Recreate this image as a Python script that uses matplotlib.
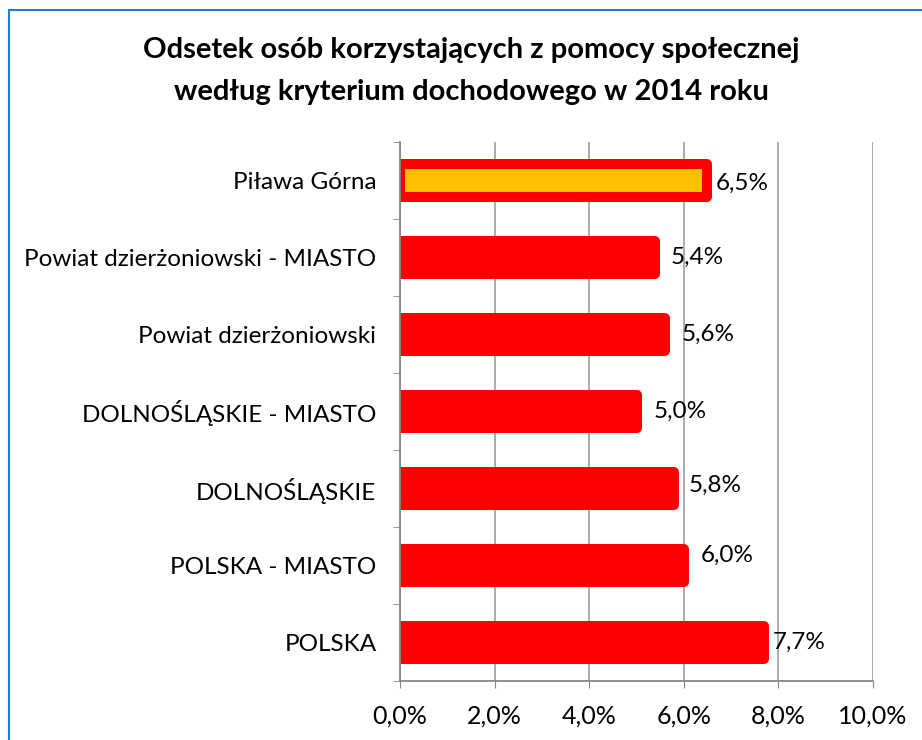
import matplotlib.pyplot as plt
from matplotlib.lines import Line2D
from matplotlib.ticker import FuncFormatter, FixedLocator

# dane
kategorie = ['POLSKA', 'POLSKA - MIASTO', 'DOLNOŚLĄSKIE', 'DOLNOŚLĄSKIE - MIASTO',
             'Powiat dzierżoniowski', 'Powiat dzierżoniowski - MIASTO', 'Piława Górna']
wartosci = [7.7, 6.0, 5.8, 5.0, 5.6, 5.4, 6.5]
etykiety = ['7,7%', '6,0%', '5,8%', '5,0%', '5,6%', '5,4%', '6,5%']
kolory = ['#ff0000'] * 6 + ['#ffc000']

# przesuniecia etykiet (w punktach), jak w oryginale
dx = [6, 12, 10, 12, 12, 11, 6]
dy = [0, 7, 2, 0, 0, 0, -2]

plt.rcParams['font.family'] = ['Lato', 'DejaVu Sans']

fig = plt.figure(figsize=(9.22, 7.4), dpi=100)
ax = fig.add_axes([400/922, 1-681/740, 473/922, (681-142)/740])

y = range(len(kategorie))
ax.barh(y, wartosci, height=0.42, color=kolory, edgecolor='#ff0000',
        linewidth=7.2, joinstyle='round', zorder=3)

for i, (w, t) in enumerate(zip(wartosci, etykiety)):
    ax.annotate(t, (w, i), xytext=(dx[i], dy[i]), textcoords='offset points',
                va='center', ha='left', fontsize=17.5, color='#000000', zorder=4)

ax.set_xlim(0, 10)
ax.set_ylim(-0.5, len(kategorie)-0.5)
ax.xaxis.set_major_locator(FixedLocator([0, 2, 4, 6, 8, 10]))
ax.xaxis.set_major_formatter(FuncFormatter(lambda v, p: ('%.1f%%' % v).replace('.', ',')))
ax.set_yticks(list(y))
ax.set_yticklabels(kategorie, fontsize=17.5)
ax.set_yticks([i + 0.5 for i in range(-1, len(kategorie))], minor=True)
ax.tick_params(axis='y', which='major', length=0, pad=17)
ax.tick_params(axis='y', which='minor', length=5, color='#868686')
ax.tick_params(axis='x', length=5, color='#868686', labelsize=18, pad=12)
ax.grid(axis='x', color='#a6a6a6', linewidth=1.3, zorder=0)
for s in ['top', 'right']:
    ax.spines[s].set_visible(False)
for s in ['left', 'bottom']:
    ax.spines[s].set_color('#868686')
    ax.spines[s].set_linewidth(1.3)
ax.spines['left'].set_zorder(5)

fig.text(0.511, 1-71/740, 'Odsetek osób korzystających z pomocy społecznej\nwedług kryterium dochodowego w 2014 roku',
         ha='center', va='center', fontsize=21, fontweight='bold', linespacing=1.75)

# niebieska ramka
fig.add_artist(Line2D([9/922, 1], [1-10/740, 1-10/740], color='#1f7fd4', linewidth=1.5))
fig.add_artist(Line2D([9/922, 9/922], [0, 1-10/740], color='#1f7fd4', linewidth=1.5))

fig.savefig('out.png', dpi=100)
